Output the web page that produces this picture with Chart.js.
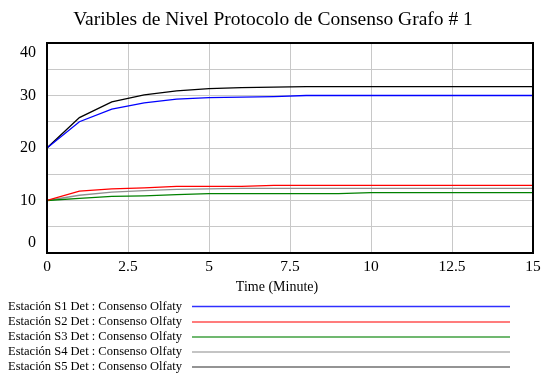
<!DOCTYPE html>
<html>
<head>
<meta charset="utf-8">
<script src="https://cdn.jsdelivr.net/npm/chart.js@4"></script>
<style>
  html, body { margin: 0; padding: 0; background: #fff; }
  #wrap { width: 548px; height: 374px; }
</style>
</head>
<body>
<div id="wrap"><canvas id="chart" width="548" height="374"></canvas></div>
<script>
const times = [0, 1, 2, 3, 4, 5, 6, 7, 8, 9, 10, 11, 12, 13, 14, 15];
const s1 = [20, 25.0, 27.4, 28.6, 29.3, 29.6, 29.7, 29.8, 30, 30, 30, 30, 30, 30, 30, 30];
const s2 = [10, 11.8, 12.2, 12.4, 12.7, 12.7, 12.7, 12.9, 12.9, 12.9, 12.9, 12.9, 12.9, 12.9, 12.9, 12.9];
const s3 = [10, 10.4, 10.8, 10.9, 11.1, 11.3, 11.3, 11.3, 11.3, 11.3, 11.5, 11.5, 11.5, 11.5, 11.5, 11.5];
const s4 = [10, 11.0, 11.6, 11.9, 12.1, 12.2, 12.3, 12.3, 12.3, 12.3, 12.3, 12.3, 12.3, 12.3, 12.3, 12.3];
const s5 = [20, 25.8, 28.8, 30.1, 30.9, 31.3, 31.5, 31.6, 31.7, 31.7, 31.7, 31.7, 31.7, 31.7, 31.7, 31.7];
const seriesNames = [
  'Estación S1 Det : Consenso Olfaty',
  'Estación S2 Det : Consenso Olfaty',
  'Estación S3 Det : Consenso Olfaty',
  'Estación S4 Det : Consenso Olfaty',
  'Estación S5 Det : Consenso Olfaty',
];
const yLabels = [0, 10, 20, 30, 40];
const colors = ['#0000ff', '#ff0000', '#008000', '#909090', '#000000'];
const legendColors = ['#3030ff', '#ff5050', '#40a040', '#b0b0b0', '#707070'];

const serif = '"Liberation Serif", "Times New Roman", serif';
const pts = vals => vals.map((v, i) => ({ x: times[i], y: v }));

const frame = {
  id: 'frame',
  afterDraw(chart) {
    const { ctx, chartArea: a, scales: { y } } = chart;
    ctx.save();
    ctx.strokeStyle = '#000';
    ctx.lineWidth = 2;
    ctx.strokeRect(a.left, a.top, a.right - a.left, a.bottom - a.top);

    // title
    ctx.fillStyle = '#000';
    ctx.font = '19.5px ' + serif;
    ctx.textAlign = 'center';
    ctx.textBaseline = 'middle';
    ctx.fillText('Varibles de Nivel Protocolo de Consenso Grafo # 1', 273, 20);

    // y labels, kept inside the plot height
    ctx.font = '16px ' + serif;
    ctx.textAlign = 'right';
    yLabels.forEach(v => {
      const py = Math.min(Math.max(y.getPixelForValue(v), a.top + 10), a.bottom - 10);
      ctx.fillText(String(v), 36, py);
    });

    // x title
    ctx.font = '14px ' + serif;
    ctx.textAlign = 'center';
    ctx.fillText('Time (Minute)', 277, 287);

    // legend
    ctx.font = '12.5px ' + serif;
    const rows = [306.5, 322, 337, 352, 367];
    chart.data.datasets.forEach((ds, i) => {
      ctx.fillStyle = '#000';
      ctx.textAlign = 'right';
      ctx.fillText(ds.label, 182, rows[i]);
      ctx.strokeStyle = legendColors[i];
      ctx.lineWidth = 1.5;
      ctx.beginPath();
      ctx.moveTo(192, rows[i]);
      ctx.lineTo(510, rows[i]);
      ctx.stroke();
    });
    ctx.restore();
  }
};

new Chart(document.getElementById('chart'), {
  type: 'line',
  data: {
    datasets: [s1, s2, s3, s4, s5].map((vals, i) => ({
      label: seriesNames[i],
      data: pts(vals),
      borderColor: colors[i],
      borderWidth: 1.3,
      pointRadius: 0,
      tension: 0,
      fill: false,
    })),
  },
  options: {
    responsive: false,
    animation: false,
    layout: { padding: { top: 43, right: 15, left: 0, bottom: 0 } },
    plugins: { legend: { display: false }, tooltip: { enabled: false } },
    scales: {
      x: {
        type: 'linear',
        min: 0,
        max: 15,
        afterFit: s => { s.height = 121; },
        ticks: {
          stepSize: 2.5,
          padding: 5,
          color: '#000',
          font: { family: serif, size: 15.5 },
          maxRotation: 0,
        },
        grid: { color: '#c8c8c8', drawTicks: false },
        border: { display: false },
      },
      y: {
        min: 0,
        max: 40,
        afterFit: s => { s.width = 47; },
        ticks: { stepSize: 5, display: false },
        grid: { color: '#c8c8c8', drawTicks: false },
        border: { display: false },
      },
    },
  },
  plugins: [frame],
});
</script>
</body>
</html>
